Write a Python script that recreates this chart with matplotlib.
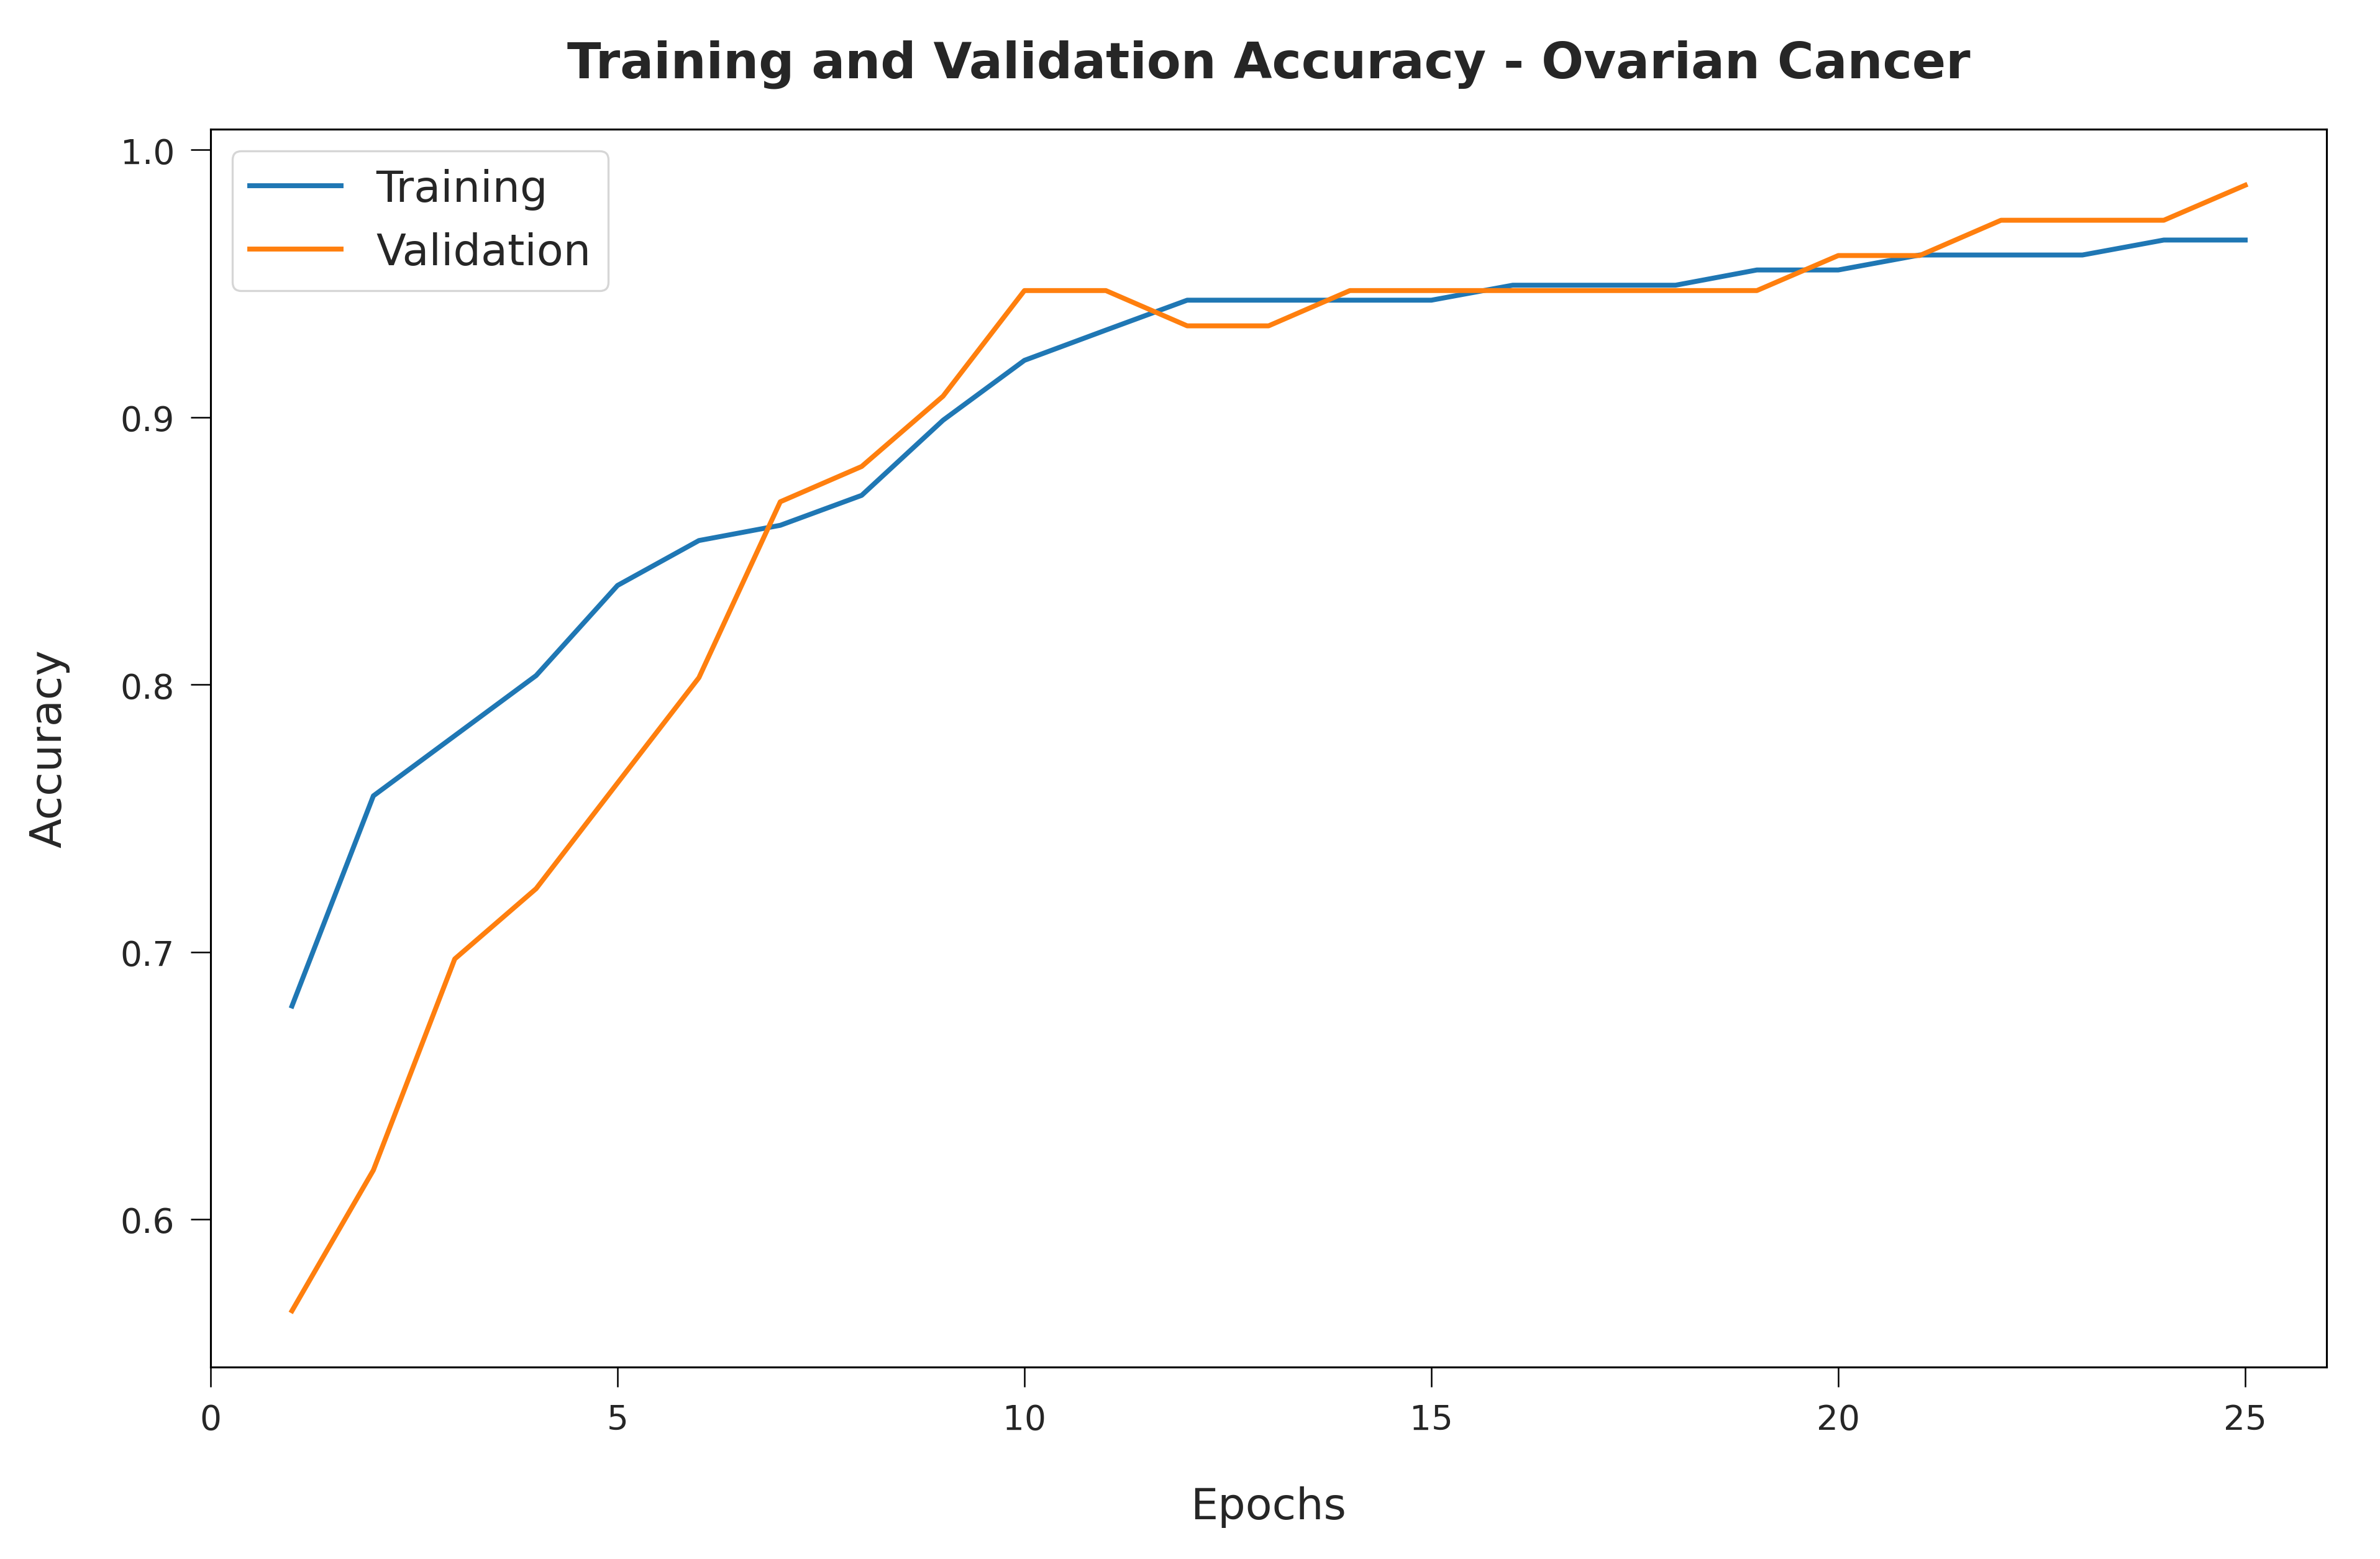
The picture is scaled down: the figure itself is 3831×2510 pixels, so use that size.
import matplotlib
matplotlib.use("Agg")
import matplotlib.pyplot as plt

epochs = list(range(1, 26))
train_acc = [0.6798, 0.7584, 0.7809, 0.8034, 0.8371, 0.8539, 0.8596, 0.8708, 0.8989,
             0.9213, 0.9326, 0.9438, 0.9438, 0.9438, 0.9438, 0.9494, 0.9494, 0.9494,
             0.9551, 0.9551, 0.9607, 0.9607, 0.9607, 0.9663, 0.9663]
val_acc = [0.5658, 0.6184, 0.6974, 0.7237, 0.7632, 0.8026, 0.8684, 0.8816, 0.9079,
           0.9474, 0.9474, 0.9342, 0.9342, 0.9474, 0.9474, 0.9474, 0.9474, 0.9474,
           0.9474, 0.9605, 0.9605, 0.9737, 0.9737, 0.9737, 0.9868]
series_labels = ["Training", "Validation"]
title = "Training and Validation Accuracy - Ovarian Cancer"
xlabel = "Epochs"
ylabel = "Accuracy"

TEXT = "#262626"
plt.rcParams["font.family"] = ["DejaVu Sans"]
plt.rcParams["text.color"] = TEXT
plt.rcParams["axes.labelcolor"] = TEXT
plt.rcParams["xtick.color"] = "black"
plt.rcParams["ytick.color"] = "black"
plt.rcParams["xtick.labelcolor"] = TEXT
plt.rcParams["ytick.labelcolor"] = TEXT

W, H = 3831, 2511
DPI = 300
fig = plt.figure(figsize=(W / DPI, H / DPI), dpi=DPI)
ax = fig.add_axes([339 / W, 1 - 2202 / H, (3745 - 339) / W, (2202 - 208.6) / H])

ax.plot(epochs, train_acc, color="#1f77b4", lw=1.9, label=series_labels[0])
ax.plot(epochs, val_acc, color="#ff7f0e", lw=1.9, label=series_labels[1])

ax.set_xlim(0, 26)
ax.set_xticks([0, 5, 10, 15, 20, 25])
ax.set_yticks([0.6, 0.7, 0.8, 0.9, 1.0])

for s in ax.spines.values():
    s.set_linewidth(0.75)
    s.set_color("black")
ax.tick_params(axis="both", which="major", length=7.7, width=0.6, pad=6.2,
               labelsize=13.2, direction="out")

ax.set_title(title, fontsize=19.2, fontweight="bold", pad=19.9, color=TEXT)
ax.set_xlabel(xlabel, fontsize=16.8, labelpad=19)
ax.set_ylabel(ylabel, fontsize=16.8, labelpad=19.5)

leg = ax.legend(loc="upper left", fontsize=16.8, handlelength=2.1,
                borderaxespad=0.5, frameon=True, fancybox=True)
leg.get_frame().set_edgecolor("#cccccc")
leg.get_frame().set_linewidth(0.8)
for t in leg.get_texts():
    t.set_color(TEXT)

fig.savefig("out.png", dpi=DPI)
